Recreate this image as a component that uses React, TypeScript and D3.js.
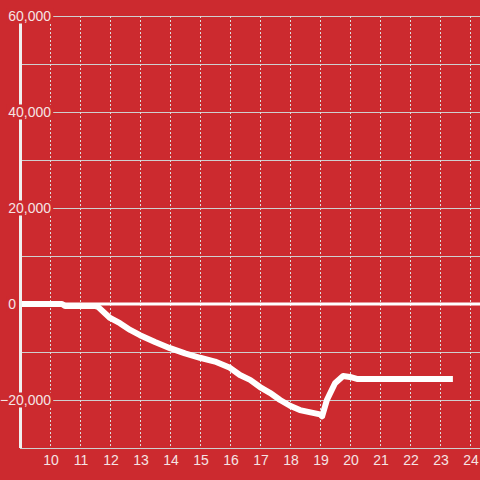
import React, { useEffect, useRef } from "react";
import * as d3 from "d3";

const hours = [9.0, 10.4, 10.5, 11.5, 11.6, 12.0, 12.33, 12.67, 13.0, 13.5, 14.0, 14.5, 15.0, 15.5, 16.0, 16.33, 16.67, 17.0, 17.33, 17.67, 18.0, 18.33, 19.0, 19.07, 19.23, 19.5, 19.77, 20.0, 20.23, 23.43];
const values = [0, 0, -400, -400, -600, -2900, -4000, -5400, -6500, -7900, -9200, -10300, -11200, -12000, -13300, -14800, -15800, -17300, -18500, -20000, -21200, -22100, -23000, -23400, -20000, -16500, -15000, -15200, -15600, -15600];
const yTicks = [60000, 40000, 20000, 0, -20000];
const yGrid = [60000, 50000, 40000, 30000, 20000, 10000, -10000, -20000, -30000];
const xTicks = [10, 11, 12, 13, 14, 15, 16, 17, 18, 19, 20, 21, 22, 23, 24];

const BG = "#cc2a2f";

export default function App() {
  const ref = useRef<SVGSVGElement | null>(null);
  useEffect(() => {
    const svg = d3.select(ref.current);
    svg.selectAll("*").remove();
    const x = d3.scaleLinear().domain([9, 24 + 1 / 3]).range([20, 480]);
    const y = d3.scaleLinear().domain([-30000, 60000]).range([448, 16]);

    svg.append("rect").attr("width", 480).attr("height", 480).attr("fill", BG);

    svg.append("g").selectAll("line").data(yGrid).join("line")
      .attr("x1", x(9)).attr("x2", 480)
      .attr("y1", (d) => y(d)).attr("y2", (d) => y(d))
      .attr("stroke", "#cfcfcf").attr("stroke-width", 1)
      .attr("shape-rendering", "crispEdges");

    svg.append("g").selectAll("line").data(xTicks).join("line")
      .attr("x1", (d) => Math.round(x(d)) + 0.5).attr("x2", (d) => Math.round(x(d)) + 0.5)
      .attr("y1", y(60000)).attr("y2", y(-30000))
      .attr("stroke", "#dddddd").attr("stroke-width", 1)
      .attr("stroke-dasharray", "2,2");

    svg.append("line")
      .attr("x1", x(9)).attr("x2", 480)
      .attr("y1", y(0)).attr("y2", y(0))
      .attr("stroke", "#ffffff").attr("stroke-width", 3);

    const line = d3.line<number>()
      .x((_, i) => x(hours[i]))
      .y((d) => y(d));
    svg.append("path")
      .attr("d", line(values) || "")
      .attr("fill", "none")
      .attr("stroke", "#ffffff")
      .attr("stroke-width", 6)
      .attr("stroke-linejoin", "round");

    svg.append("line")
      .attr("x1", x(9) + 0.5).attr("x2", x(9) + 0.5)
      .attr("y1", y(60000)).attr("y2", y(-30000))
      .attr("stroke", "#f0f0f0").attr("stroke-width", 3);

    const lab = svg.append("g").selectAll("g").data(yTicks).join("g");
    lab.each(function (d) {
      const g = d3.select(this);
      const ax = d === 0 ? 16 : 51;
      const t = g.append("text")
        .attr("x", ax).attr("y", y(d))
        .attr("dy", "0.36em")
        .attr("text-anchor", "end")
        .attr("font-family", "Liberation Sans, Arial, sans-serif")
        .attr("font-size", 14)
        .attr("fill", "#f5e4e4")
        .text(d3.format(",")(d));
      const bb = (t.node() as SVGTextElement).getBBox();
      g.insert("rect", "text")
        .attr("x", bb.x - 2).attr("y", y(d) - 7.5)
        .attr("width", bb.width + 4).attr("height", 15)
        .attr("fill", BG);
    });

    svg.append("g").selectAll("text").data(xTicks).join("text")
      .attr("x", (d) => x(d) + 1).attr("y", 465)
      .attr("text-anchor", "middle")
      .attr("font-family", "Liberation Sans, Arial, sans-serif")
      .attr("font-size", 14)
      .attr("fill", "#f5e4e4")
      .text((d) => String(d));
  }, []);
  return (
    <svg ref={ref} width={480} height={480}
      style={{ position: "fixed", left: 0, top: 0, display: "block" }} />
  );
}
